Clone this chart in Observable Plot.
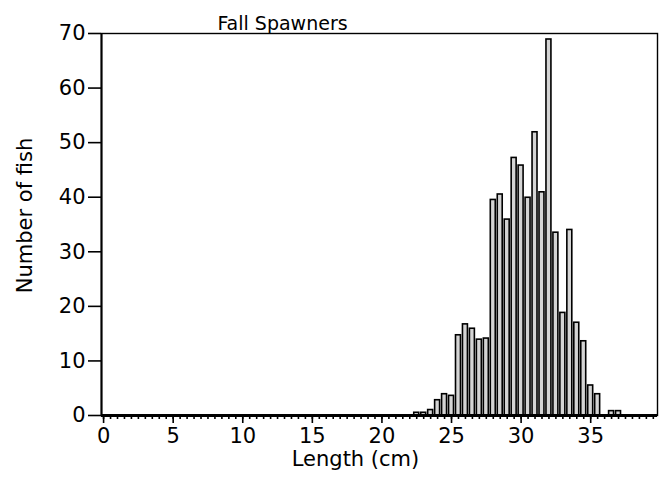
<!DOCTYPE html>
<html>
<head>
<meta charset="utf-8">
<script src="https://cdn.jsdelivr.net/npm/d3@7"></script>
<script src="https://cdn.jsdelivr.net/npm/@observablehq/plot@0.6"></script>
<style>
  html, body { margin: 0; padding: 0; background: #fff; }
  #chart svg { display: block; }
</style>
</head>
<body>
<div id="chart"></div>
<script>
const title = "Fall Spawners";
const xLabel = "Length (cm)";
const yLabel = "Number of fish";

// bin centres (cm), 0.5 cm bins
const lengths = [22.5, 23, 23.5, 24, 24.5, 25, 25.5, 26, 26.5, 27, 27.5, 28, 28.5, 29, 29.5,
                 30, 30.5, 31, 31.5, 32, 32.5, 33, 33.5, 34, 34.5, 35, 35.5, 36.5, 37];
const counts  = [0.5, 0.5, 1, 2.8, 3.9, 3.6, 14.7, 16.7, 15.9, 13.9, 14.1, 39.5, 40.5, 35.9, 47.2,
                 45.8, 39.9, 51.9, 40.9, 68.9, 33.5, 18.8, 34, 17, 13.6, 5.5, 3.9, 0.8, 0.8];
const binWidth = 0.5;

const xDomain = [-0.15, 39.8];
const yDomain = [0, 70];
const xMajorTicks = [0, 5, 10, 15, 20, 25, 30, 35];
const xMinorTicks = d3.range(0, 40, 0.5);
const yTicks = [0, 10, 20, 30, 40, 50, 60, 70];

const data = lengths.map((len, i) => ({len, count: counts[i]}));

const font = "'DejaVu Sans', sans-serif";

const chart = Plot.plot({
  width: 663,
  height: 477,
  marginTop: 33,
  marginBottom: 62,
  marginLeft: 101,
  marginRight: 6,
  style: {fontFamily: font, fontSize: "20px", color: "black", background: "white"},
  x: {domain: xDomain, axis: null},
  y: {domain: yDomain, axis: null},
  marks: [
    Plot.rectY(data, {
      x1: d => d.len - binWidth / 2,
      x2: d => d.len + binWidth / 2,
      y: "count",
      insetLeft: 1,
      insetRight: 1,
      fill: "#d4d4d4",
      stroke: "black",
      strokeWidth: 1.6
    }),
    Plot.frame({stroke: "black", strokeWidth: 1.4}),
    Plot.ruleX([xDomain[0]], {stroke: "black", strokeWidth: 2}),
    Plot.ruleY([yDomain[0]], {stroke: "black", strokeWidth: 3}),
    Plot.axisX({ticks: xMinorTicks, tickSize: 4, tickFormat: () => "", strokeWidth: 1.6, label: null}),
    Plot.axisX({ticks: xMajorTicks, tickSize: 8, tickPadding: 5, strokeWidth: 1.6, label: null, fontSize: 21}),
    Plot.axisY({ticks: yTicks, tickSize: 13, tickPadding: 3, strokeWidth: 1.6, label: null, fontSize: 21}),
    Plot.text([title], {frameAnchor: "top", textAnchor: "middle", dx: -97, dy: -4, lineAnchor: "bottom", fontSize: 19}),
    Plot.text([xLabel], {frameAnchor: "bottom", textAnchor: "middle", dx: -24, dy: 36, lineAnchor: "top", fontSize: 21}),
    Plot.text([yLabel], {frameAnchor: "left", textAnchor: "middle", dx: -76, dy: -9, rotate: -90, fontSize: 21})
  ]
});
document.getElementById("chart").appendChild(chart);
</script>
</body>
</html>
